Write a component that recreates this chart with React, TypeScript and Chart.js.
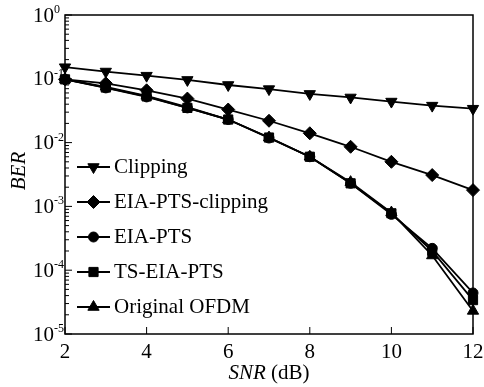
import React, { useEffect, useRef } from 'react';
import { Chart, registerables } from 'chart.js';
Chart.register(...registerables);

const snr = [2, 3, 4, 5, 6, 7, 8, 9, 10, 11, 12];
const clipping = [0.152, 0.13, 0.112, 0.096, 0.08, 0.069, 0.058, 0.051, 0.044, 0.038, 0.034];
const eiaPtsClipping = [0.098, 0.085, 0.066, 0.049, 0.033, 0.022, 0.014, 0.0086, 0.005, 0.0031, 0.0018];
const eiaPts = [0.098, 0.072, 0.052, 0.035, 0.023, 0.0118, 0.006, 0.0023, 0.00075, 0.00022, 0.000044];
const tsEiaPts = [0.098, 0.073, 0.053, 0.035, 0.023, 0.012, 0.006, 0.0023, 0.00078, 0.0002, 0.000034];
const originalOfdm = [0.098, 0.075, 0.054, 0.036, 0.023, 0.012, 0.006, 0.0024, 0.0008, 0.00017, 0.000023];

const seriesNames = ['Clipping', 'EIA-PTS-clipping', 'EIA-PTS', 'TS-EIA-PTS', 'Original OFDM'];
const seriesValues = [clipping, eiaPtsClipping, eiaPts, tsEiaPts, originalOfdm];
const seriesStyles = ['triangleDown', 'diamond', 'circle', 'square', 'triangle'];
const xTickValues = [2, 4, 6, 8, 10, 12];
const yDecades = [0, -1, -2, -3, -4, -5];
const xTitleItalic = 'SNR';
const xTitleRest = ' (dB)';
const yTitle = 'BER';

const FONT = '"Liberation Serif", "Times New Roman", serif';

function styleToChart(s: string) {
  switch (s) {
    case 'triangleDown': return { pointStyle: 'triangle', rotation: 180, radius: 6.5 };
    case 'diamond': return { pointStyle: 'rectRot', rotation: 0, radius: 6.5 };
    case 'circle': return { pointStyle: 'circle', rotation: 0, radius: 5 };
    case 'square': return { pointStyle: 'rect', rotation: 0, radius: 6.5 };
    default: return { pointStyle: 'triangle', rotation: 0, radius: 6.5 };
  }
}

function drawMarker(ctx: CanvasRenderingContext2D, style: string, x: number, y: number) {
  const m = styleToChart(style);
  const r = m.radius;
  ctx.beginPath();
  if (m.pointStyle === 'circle') {
    ctx.arc(x, y, r, 0, Math.PI * 2);
  } else if (m.pointStyle === 'rectRot') {
    ctx.moveTo(x, y - r); ctx.lineTo(x + r, y); ctx.lineTo(x, y + r); ctx.lineTo(x - r, y);
  } else if (m.pointStyle === 'rect') {
    const s = Math.SQRT1_2 * r;
    ctx.rect(x - s, y - s, 2 * s, 2 * s);
  } else {
    let rad = (m.rotation * Math.PI) / 180;
    ctx.moveTo(x + Math.sin(rad) * r, y - Math.cos(rad) * r);
    rad += (2 * Math.PI) / 3;
    ctx.lineTo(x + Math.sin(rad) * r, y - Math.cos(rad) * r);
    rad += (2 * Math.PI) / 3;
    ctx.lineTo(x + Math.sin(rad) * r, y - Math.cos(rad) * r);
  }
  ctx.closePath();
  ctx.fill();
  ctx.stroke();
}

const axesPlugin = {
  id: 'customAxes',
  afterDraw(chart: any) {
    const ctx: CanvasRenderingContext2D = chart.ctx;
    const { left, right, top, bottom } = chart.chartArea;
    const xs = chart.scales.x;
    const ys = chart.scales.y;
    ctx.save();
    ctx.strokeStyle = '#000';
    ctx.fillStyle = '#000';
    ctx.lineWidth = 1.5;
    ctx.strokeRect(left, top, right - left, bottom - top);

    // y ticks (inside, left axis)
    ctx.lineWidth = 1;
    ctx.beginPath();
    for (let e = -5; e <= 0; e++) {
      const yp = ys.getPixelForValue(Math.pow(10, e));
      ctx.moveTo(left, yp); ctx.lineTo(left + 7, yp);
      if (e < 0) {
        for (let k = 2; k <= 9; k++) {
          const ym = ys.getPixelForValue(k * Math.pow(10, e));
          ctx.moveTo(left, ym); ctx.lineTo(left + 4, ym);
        }
      }
    }
    // x ticks (inside, bottom axis)
    xTickValues.forEach((v) => {
      const xp = xs.getPixelForValue(v);
      ctx.moveTo(xp, bottom); ctx.lineTo(xp, bottom - 7);
    });
    ctx.stroke();

    // y labels
    yDecades.forEach((e) => {
      const yp = ys.getPixelForValue(Math.pow(10, e));
      ctx.font = `21px ${FONT}`;
      ctx.textAlign = 'right';
      ctx.textBaseline = 'middle';
      ctx.fillText('10', 54, yp + 1);
      ctx.font = `12px ${FONT}`;
      ctx.textAlign = 'left';
      ctx.textBaseline = 'alphabetic';
      ctx.fillText(e === 0 ? '0' : '-' + Math.abs(e), 54, yp - 2);
    });

    // x labels
    ctx.font = `21px ${FONT}`;
    ctx.textAlign = 'center';
    ctx.textBaseline = 'alphabetic';
    xTickValues.forEach((v) => {
      ctx.fillText(String(v), xs.getPixelForValue(v), 358);
    });

    // x title
    const cx = (left + right) / 2;
    ctx.font = `italic 21px ${FONT}`;
    const w1 = ctx.measureText(xTitleItalic).width;
    ctx.font = `21px ${FONT}`;
    const w2 = ctx.measureText(xTitleRest).width;
    const sx = cx - (w1 + w2) / 2;
    ctx.textAlign = 'left';
    ctx.font = `italic 21px ${FONT}`;
    ctx.fillText(xTitleItalic, sx, 379);
    ctx.font = `21px ${FONT}`;
    ctx.fillText(xTitleRest, sx + w1, 379);

    // y title
    ctx.save();
    ctx.translate(25, 171);
    ctx.rotate(-Math.PI / 2);
    ctx.font = `italic 21px ${FONT}`;
    ctx.textAlign = 'center';
    ctx.textBaseline = 'alphabetic';
    ctx.fillText(yTitle, 0, 0);
    ctx.restore();

    // legend
    ctx.lineWidth = 1.8;
    seriesNames.forEach((name, i) => {
      const ly = 167 + 35 * i;
      ctx.beginPath();
      ctx.moveTo(77, ly); ctx.lineTo(110, ly);
      ctx.stroke();
      ctx.lineWidth = 1;
      drawMarker(ctx, seriesStyles[i], 93.5, ly);
      ctx.lineWidth = 1.8;
      ctx.font = `21px ${FONT}`;
      ctx.textAlign = 'left';
      ctx.textBaseline = 'middle';
      ctx.fillText(name, 114, ly);
    });
    ctx.restore();
  },
};

export default function App() {
  const ref = useRef<HTMLCanvasElement>(null);
  useEffect(() => {
    if (!ref.current) return;
    const datasets = seriesNames.map((name, i) => {
      const m = styleToChart(seriesStyles[i]);
      return {
        label: name,
        data: snr.map((x, j) => ({ x, y: seriesValues[i][j] })),
        borderColor: '#000',
        backgroundColor: '#000',
        borderWidth: 1.8,
        pointStyle: m.pointStyle,
        pointRotation: m.rotation,
        pointRadius: m.radius,
        pointBorderWidth: 1,
        pointBackgroundColor: '#000',
        pointBorderColor: '#000',
        tension: 0,
        clip: false,
      };
    });
    const chart = new Chart(ref.current, {
      type: 'line',
      data: { datasets: datasets as any },
      options: {
        animation: false,
        responsive: false,
        layout: { padding: { left: 65, top: 15, right: 11, bottom: 53 } },
        plugins: { legend: { display: false }, tooltip: { enabled: false } },
        scales: {
          x: { type: 'linear', min: 2, max: 12, display: false },
          y: { type: 'logarithmic', min: 1e-5, max: 1, display: false },
        },
      },
      plugins: [axesPlugin],
    });
    return () => chart.destroy();
  }, []);
  return (
    <div style={{ position: 'fixed', left: 0, top: 0, width: 484, height: 387, background: '#fff' }}>
      <canvas ref={ref} width={484} height={387} style={{ display: 'block' }} />
    </div>
  );
}
